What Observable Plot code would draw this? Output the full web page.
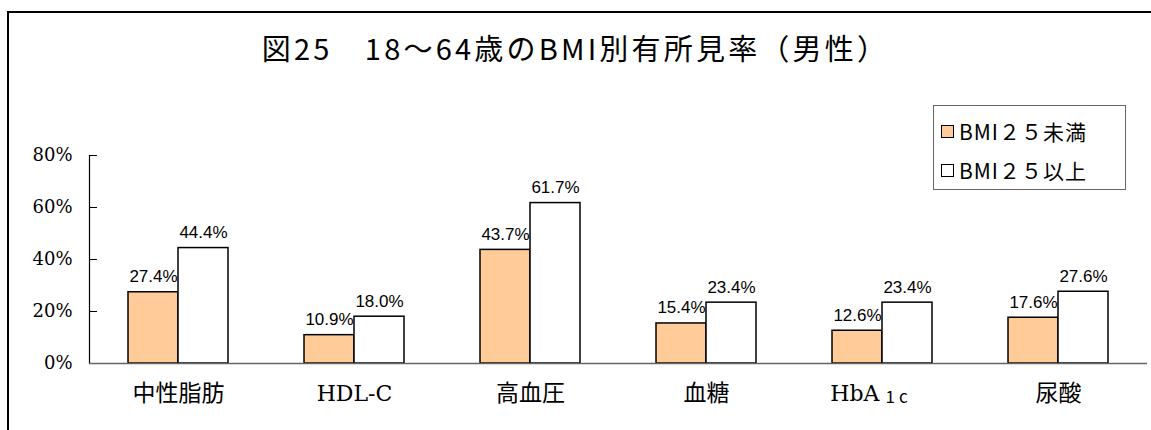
<!DOCTYPE html>
<html><head><meta charset="utf-8">
<script src="https://cdn.jsdelivr.net/npm/d3@7"></script>
<script src="https://cdn.jsdelivr.net/npm/@observablehq/plot@0.6"></script>
<style>
html,body{margin:0;padding:0;background:#fff;}
body{width:1151px;height:430px;overflow:hidden;position:relative;font-family:"Liberation Sans","Noto Sans CJK JP",sans-serif;}
#chart{position:absolute;left:0;top:0;}
#frame{position:absolute;left:7px;top:11px;width:1300px;height:600px;border:2px solid #000;box-sizing:border-box;pointer-events:none;}
#title{position:absolute;left:0;top:27px;width:1151px;text-align:center;font-size:29px;letter-spacing:3.2px;font-family:"Noto Sans CJK JP",sans-serif;color:#000;line-height:40px;}
#legend{position:absolute;left:933px;top:105px;width:193px;height:85px;border:1.5px solid #666;box-sizing:border-box;background:#fff;font-family:"Noto Sans CJK JP",sans-serif;font-size:21px;letter-spacing:1px;}
.item{position:absolute;left:7px;display:flex;align-items:center;line-height:26px;}
.sw{width:13px;height:13px;border:1.5px solid #000;box-sizing:border-box;margin-right:5px;}
</style></head>
<body>
<div id="chart"></div>
<div id="frame"></div>
<div id="title"></div>
<div id="legend"></div>
<script>
const title = "図25　18～64歳のBMI別有所見率（男性）";
const categories = ["中性脂肪", "HDL-C", "高血圧", "血糖", "HbA1c", "尿酸"];
const seriesNames = ["BMI２５未満", "BMI２５以上"];
const seriesColors = ["#FFCC99", "#FFFFFF"];
const under25 = [27.4, 10.9, 43.7, 15.4, 12.6, 17.6];
const over25 = [44.4, 18.0, 61.7, 23.4, 23.4, 27.6];
const yTicks = [0, 20, 40, 60, 80];

const rowsU = categories.map((c, i) => ({cat: c, v: under25[i]}));
const rowsO = categories.map((c, i) => ({cat: c, v: over25[i]}));
const latin = c => /^[A-Za-z]/.test(c);
const plainCjk = categories.filter(c => !latin(c));
const plainLatin = categories.filter(c => latin(c) && c !== "HbA1c");
const hba = categories.filter(c => c === "HbA1c");

document.getElementById("title").textContent = title;
const lg = document.getElementById("legend");
seriesNames.forEach((s, i) => {
  const it = document.createElement("div");
  it.className = "item";
  it.style.top = (i === 0 ? 12 : 51) + "px";
  const sw = document.createElement("div");
  sw.className = "sw";
  sw.style.background = seriesColors[i];
  const t = document.createElement("span");
  t.textContent = s;
  it.appendChild(sw); it.appendChild(t);
  lg.appendChild(it);
});

const chart = Plot.plot({
  width: 1151,
  height: 430,
  marginLeft: 89,
  marginRight: 4,
  marginTop: 155,
  marginBottom: 67,
  x: {domain: categories, paddingInner: 0.433, paddingOuter: 0.2165, axis: null},
  y: {domain: [0, 80], axis: null},
  marks: [
    Plot.axisY(yTicks, {label: null, tickSize: -8, tickPadding: 25, tickFormat: d => d + "%", fontSize: 18, fontFamily: "DejaVu Serif", fill: "#000", stroke: "#000"}),
    Plot.frame({anchor: "left", stroke: "#000", strokeWidth: 1.2}),
    Plot.barY(rowsU, {x: "cat", y: "v", fill: seriesColors[0], stroke: "#000", strokeWidth: 1.5, insetRight: 50}),
    Plot.barY(rowsO, {x: "cat", y: "v", fill: seriesColors[1], stroke: "#000", strokeWidth: 1.5, insetLeft: 50}),
    Plot.ruleY([0], {stroke: "#666", strokeWidth: 1.5}),
    Plot.text(rowsU, {x: "cat", y: "v", text: d => d.v.toFixed(1) + "%", dx: -25, dy: -10, lineAnchor: "bottom", fontSize: 17, fontFamily: "Liberation Sans", fill: "#000"}),
    Plot.text(rowsO, {x: "cat", y: "v", text: d => d.v.toFixed(1) + "%", dx: 25, dy: -10, lineAnchor: "bottom", fontSize: 17, fontFamily: "Liberation Sans", fill: "#000"}),
    Plot.text(plainCjk, {x: d => d, frameAnchor: "bottom", dy: 37, fontSize: 23, fontFamily: "Noto Sans CJK JP", fill: "#000"}),
    Plot.text(plainLatin, {x: d => d, frameAnchor: "bottom", dy: 37, fontSize: 22, fontFamily: "DejaVu Serif", fill: "#000"}),
    Plot.text(hba, {x: d => d, text: d => d.slice(0, 3), textAnchor: "end", dx: -3, frameAnchor: "bottom", dy: 37, fontSize: 22, fontFamily: "DejaVu Serif", fill: "#000"}),
    Plot.text(hba, {x: d => d, text: d => d.slice(3), textAnchor: "start", dx: 3, frameAnchor: "bottom", dy: 39, fontSize: 17, fontFamily: "Noto Sans CJK JP", fill: "#000"})
  ]
});
d3.select(chart).selectAll("text").filter(function () { return this.textContent === "1c"; }).style("letter-spacing", "4px");
document.getElementById("chart").appendChild(chart);
</script>
</body></html>
